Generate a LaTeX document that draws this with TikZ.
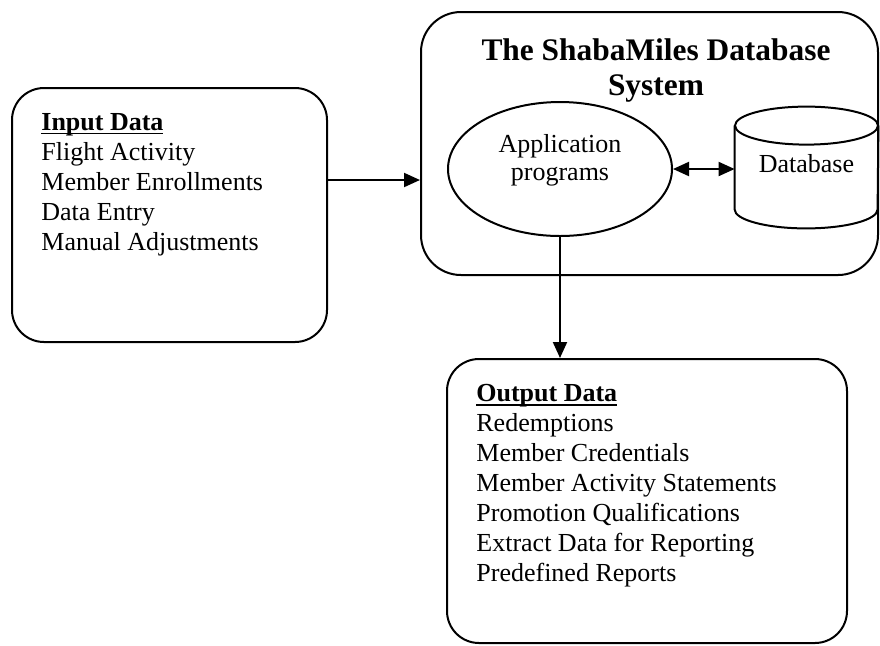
\documentclass[tikz,border=0pt]{standalone}
\usepackage{fontspec}
\setmainfont{Liberation Serif}
\usepackage{tikz}
\usetikzlibrary{shapes.geometric,arrows.meta,positioning}

% bold heading with a tight underline
\newcommand{\boxhead}[1]{\setbox0\hbox{\textbf{#1}}\rlap{\rule[-2pt]{\wd0}{0.6pt}}\box0}

\begin{document}
\begin{tikzpicture}[
  x=0.5pt, y=-0.5pt,
  box/.style={draw, line width=1pt, rounded corners=16pt},
  txt/.style={anchor=north west, inner sep=0pt, align=left, font=\fontsize{13}{15}\selectfont},
  prog/.style={ellipse, draw, line width=1pt, minimum width=112pt, minimum height=67pt},
  progtxt/.style={align=center, inner sep=0pt, font=\fontsize{13}{14}\selectfont},
  store/.style={rectangle, inner sep=0pt, minimum width=71.5pt, minimum height=60.5pt, text depth=4.2pt, font=\fontsize{13}{14}\selectfont},
  cyl/.style={line width=1pt},
  flow/.style={line width=1pt, -{Triangle[length=8pt,width=7pt]}},
  both/.style={line width=1pt, {Triangle[length=8pt,width=7pt]}-{Triangle[length=8pt,width=7pt]}}
]
\useasboundingbox (0,0) rectangle (880,645);

% Boxes
\node[box, minimum width=157.5pt, minimum height=127pt] (inbox) at (169.5,215) {};
\node[box, rounded corners=20pt, minimum width=228.5pt, minimum height=131.5pt] (sys) at (649.5,143.5) {};
\node[box, minimum width=200pt, minimum height=142pt] (outbox) at (647,501) {};

% Box contents
\node[txt] (intext) at ([xshift=15pt,yshift=-13pt]inbox.north west)
  {\boxhead{Input Data}\\Flight Activity\\Member Enrollments\\Data Entry\\Manual Adjustments};
\node[txt] (outtext) at ([xshift=15pt,yshift=-13pt]outbox.north west)
  {\boxhead{Output Data}\\Redemptions\\Member Credentials\\Member Activity Statements\\Promotion Qualifications\\Extract Data for Reporting\\Predefined Reports};
\node[anchor=north, inner sep=0pt, align=center, font=\fontsize{15.7}{17.5}\selectfont\bfseries] (title) at (656,38)
  {The ShabaMiles Database\\System};

% System parts
\node[prog] (app) at (560,169) {};
\node[progtxt] (apptext) at ([yshift=4.4pt]app.center) {Application\\programs};
\node[store] (db) at (806.5,167.5) {Database};
\draw[cyl] ([yshift=-9.5pt]db.north) ellipse [x radius=35.75pt, y radius=9.5pt];
\draw[cyl] ([yshift=-9.5pt]db.north west) -- ([yshift=9.5pt]db.south west)
  arc [start angle=180, end angle=360, x radius=35.75pt, y radius=9.5pt] -- ([yshift=-9.5pt]db.north east);

% Connections
\draw[flow] ([yshift=17.5pt]inbox.east) -- ([yshift=17.5pt]inbox.east -| sys.west);
\draw[both] (app.east) -- (app.east -| db.west);
\draw[flow] (app.south) -- (app.south |- outbox.north);

\end{tikzpicture}
\end{document}
